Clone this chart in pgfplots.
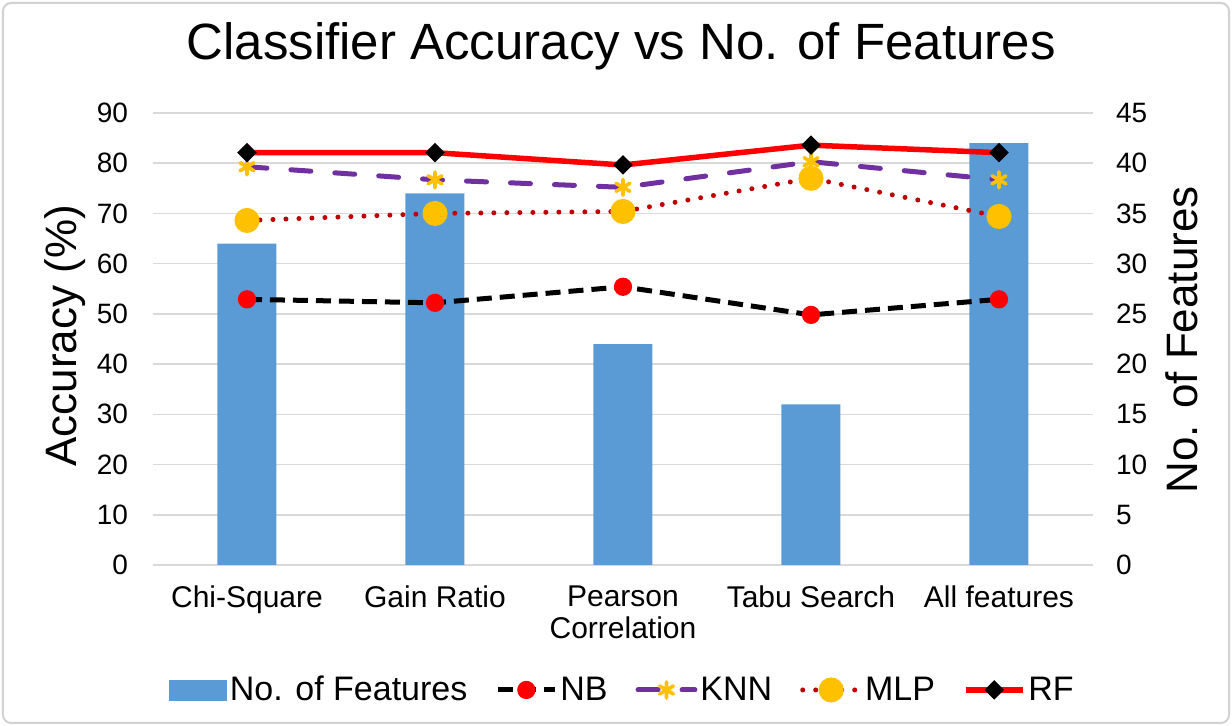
\documentclass[border=0pt]{standalone}
\usepackage{pgfplots}
\pgfplotsset{compat=1.18}
\usepackage{fontspec}
\setmainfont{Liberation Sans}
\definecolor{barblue}{HTML}{5B9BD5}
\definecolor{knnpurple}{HTML}{7030A0}
\definecolor{gold}{HTML}{FFC000}
\definecolor{mlpred}{HTML}{C00000}
\definecolor{gridgray}{HTML}{D9D9D9}
\begin{document}
\begin{tikzpicture}
\useasboundingbox (-76.5pt,-80.5pt) rectangle (539.5pt,282.5pt);
\draw[gray!35, line width=1pt, rounded corners=4pt] (-75pt,-79pt) rectangle (538pt,281pt);
\pgfplotsset{common/.style={
  scale only axis, width=470pt, height=226pt, at={(0,0)}, anchor=south west,
  xmin=-0.5, xmax=4.5, axis line style={draw=none}, major tick length=0pt,
  tick label style={font=\fontsize{14}{16}\selectfont},
  /pgf/number format/assume math mode=true,
}}
% bars on right axis
\begin{axis}[common, axis y line*=right, axis x line*=bottom,
  ymin=0, ymax=45, ytick={0,5,...,45}, ymajorgrids,
  grid style={gridgray, line width=0.75pt},
  xtick={0,1,2,3,4},
  xticklabels={Chi-Square, Gain Ratio, {Pearson\\Correlation}, Tabu Search, All features},
  xticklabel style={align=center, yshift=-7pt, font=\fontsize{15}{16}\selectfont},
  yticklabel style={xshift=8pt},
  ylabel={No. of Features},
  ylabel style={font=\fontsize{22}{24}\selectfont, at={(axis description cs:1.0947,0.498)}, anchor=center},
  ybar, bar width=29.5pt]
\addplot[fill=barblue, draw=none] coordinates {(0,32) (1,37) (2,22) (3,16) (4,42)};
\end{axis}
% lines on left axis
\begin{axis}[common, axis y line*=left, axis x line=none,
  ymin=0, ymax=90, ytick={0,10,...,90},
  yticklabel style={xshift=-9pt},
  ylabel={Accuracy (\%)},
  ylabel style={font=\fontsize{22}{24}\selectfont, at={(axis description cs:-0.0936,0.507)}, anchor=center},
  title={Classifier Accuracy vs No. of Features},
  title style={font=\fontsize{25.5}{28}\selectfont, at={(axis description cs:0.498,1.091)}, anchor=base},
  legend image code/.code={\draw[mark repeat=2,mark phase=2,#1] plot coordinates {(0cm,0cm) (0.5cm,0cm) (1cm,0cm)};},
  legend columns=5,
  legend style={at={(axis description cs:0.5,-0.2765)}, anchor=center, draw=none, fill=none,
    font=\fontsize{17}{18}\selectfont, nodes={inner sep=1.5pt},
    /tikz/every even column/.append style={column sep=12.5pt}},
  ]
\addlegendimage{legend image code/.code={\fill[barblue] (0cm,-5pt) rectangle (1cm,5pt);}}
\addlegendentry{No. of Features}
\addplot[black, line width=2.5pt, dash pattern=on 7.5pt off 4pt,
  mark=*, mark size=3.3pt, mark options={solid, fill=red, draw=red}]
  coordinates {(0,52.9) (1,52.2) (2,55.4) (3,49.8) (4,52.9)};
\addlegendentry{NB}
\addplot[knnpurple, line width=2.5pt, line cap=round, dash pattern=on 10pt off 12pt,
  mark=asterisk, mark size=4pt, mark options={solid, draw=gold, line width=1.8pt}]
  coordinates {(0,79.3) (1,76.7) (2,75.2) (3,80.3) (4,76.7)};
\addlegendentry{KNN}
\addplot[mlpred, line width=2.5pt, line cap=round, dash pattern=on 0pt off 6.5pt,
  mark=*, mark size=5pt, mark options={solid, fill=gold, draw=gold}]
  coordinates {(0,68.6) (1,70.0) (2,70.4) (3,77.0) (4,69.4)};
\addlegendentry{MLP}
\addplot[red, line width=2.75pt,
  mark=square*, mark size=3.2pt, mark options={solid, fill=black, draw=black, rotate=45, line width=0.5pt}]
  coordinates {(0,82.1) (1,82.1) (2,79.65) (3,83.6) (4,82.1)};
\addlegendentry{RF}
\end{axis}
\end{tikzpicture}
\end{document}
